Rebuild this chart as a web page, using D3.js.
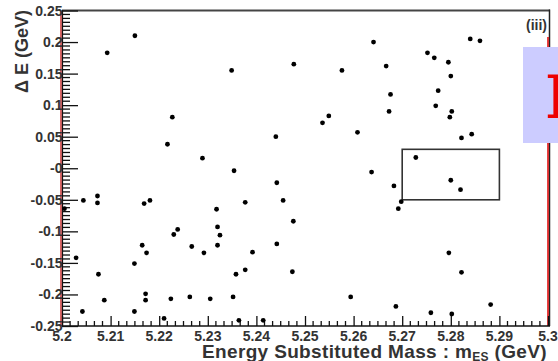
<!DOCTYPE html>
<html>
<head>
<meta charset="utf-8">
<script src="https://cdn.jsdelivr.net/npm/d3@7"></script>
<style>
  html, body { margin: 0; padding: 0; background: #fff; }
  svg { display: block; font-family: "Liberation Sans", Arial, sans-serif; }
</style>
</head>
<body>
<main></main>
<script>
"use strict";

// tick labels as printed on the plot
const xTickValues = [5.2, 5.21, 5.22, 5.23, 5.24, 5.25, 5.26, 5.27, 5.28, 5.29, 5.3];
const xTickLabels = ["5.2", "5.21", "5.22", "5.23", "5.24", "5.25", "5.26", "5.27", "5.28", "5.29", "5.3"];
const yTickValues = [0.25, 0.2, 0.15, 0.1, 0.05, 0, -0.05, -0.1, -0.15, -0.2, -0.25];
const yTickLabels = ["0.25", "0.2", "0.15", "0.1", "0.05", "-0", "-0.05", "-0.1", "-0.15", "-0.2", "-0.25"];

// candidate events: mES (GeV) and deltaE (GeV)
const mES = [
  5.2150, 5.2093, 5.2349, 5.2227, 5.2641, 5.2477, 5.2576, 5.2667, 5.2676, 5.2673,
  5.2549, 5.2840, 5.2860, 5.2752, 5.2766, 5.2795, 5.2800, 5.2774, 5.2769, 5.2802,
  5.2798, 5.2822, 5.2843, 5.2728, 5.2800, 5.2820, 5.2698, 5.2692, 5.2536, 5.2440,
  5.2608, 5.2637, 5.2442, 5.2683, 5.2455, 5.2476, 5.2217, 5.2289, 5.2354, 5.2169,
  5.2181, 5.2377, 5.2318, 5.2238, 5.2230, 5.2320, 5.2325, 5.2044, 5.2073, 5.2073,
  5.2005, 5.2029, 5.2075, 5.2149, 5.2087, 5.2042, 5.2149, 5.2165, 5.2174, 5.2267,
  5.2292, 5.2320, 5.2442, 5.2392, 5.2358, 5.2377, 5.2172, 5.2172, 5.2224, 5.2263,
  5.2305, 5.2352, 5.2210, 5.2364, 5.2414, 5.2474, 5.2594, 5.2687, 5.2796, 5.2822,
  5.2882, 5.2759, 5.2802
];
const deltaE = [
  0.210, 0.183, 0.155, 0.081, 0.200, 0.165, 0.155, 0.162, 0.117, 0.090,
  0.083, 0.205, 0.202, 0.183, 0.175, 0.168, 0.146, 0.123, 0.099, 0.090,
  0.081, 0.048, 0.054, 0.017, -0.019, -0.034, -0.053, -0.064, 0.072, 0.050,
  0.057, -0.006, -0.023, -0.028, -0.051, -0.084, 0.038, 0.016, -0.004, -0.056,
  -0.051, -0.054, -0.065, -0.097, -0.105, -0.093, -0.106, -0.051, -0.044, -0.055,
  -0.064, -0.142, -0.168, -0.151, -0.209, -0.227, -0.227, -0.122, -0.134, -0.124,
  -0.134, -0.122, -0.120, -0.133, -0.168, -0.161, -0.199, -0.209, -0.207, -0.204,
  -0.207, -0.204, -0.238, -0.241, -0.241, -0.164, -0.204, -0.219, -0.134, -0.165,
  -0.216, -0.229, -0.231
];

// signal box corners
const boxX = [5.27, 5.29];
const boxY = [-0.05, 0.03];

const svgWidth = 558;
const svgHeight = 361;
const plotLeft = 62, plotRight = 548, plotTop = 10.5, plotBottom = 326;

const svg = d3.select("main")
  .append("svg")
  .attr("width", svgWidth)
  .attr("height", svgHeight);

const xScale = d3.scaleLinear().domain([5.2, 5.3]).range([plotLeft, plotRight]);
const yScale = d3.scaleLinear().domain([-0.25, 0.25]).range([plotBottom, plotTop]);

// minor ticks
const xMinor = d3.range(0, 61).filter(i => i % 6 !== 0).map(i => 5.2 + i * 0.1 / 60);
const yMinor = d3.range(0, 81).filter(i => i % 8 !== 0).map(i => -0.25 + i * 0.5 / 80);

// top frame
svg.append("line")
  .attr("x1", plotLeft).attr("x2", plotRight + 2)
  .attr("y1", plotTop).attr("y2", plotTop)
  .attr("stroke", "#444").attr("stroke-width", 2);

// right frame (black with a red line next to it)
svg.append("line")
  .attr("x1", plotRight + 1.5).attr("x2", plotRight + 1.5)
  .attr("y1", plotTop - 1).attr("y2", plotBottom)
  .attr("stroke", "#222").attr("stroke-width", 1.5);
svg.append("line")
  .attr("x1", plotRight).attr("x2", plotRight)
  .attr("y1", 37).attr("y2", plotBottom)
  .attr("stroke", "#e00000").attr("stroke-width", 1.5);

// x axis
const xAxis = d3.axisTop(xScale)
  .tickValues(xTickValues)
  .tickSize(10)
  .tickFormat(() => "");
const gx = svg.append("g")
  .attr("transform", `translate(0, ${plotBottom})`)
  .call(xAxis);
gx.select(".domain").remove();
gx.selectAll("line").attr("stroke", "#111").attr("stroke-width", 1.3);

svg.append("g")
  .attr("transform", `translate(0, ${plotBottom})`)
  .selectAll("line")
  .data(xMinor)
  .enter()
  .append("line")
  .attr("x1", d => xScale(d)).attr("x2", d => xScale(d))
  .attr("y1", 0).attr("y2", -5)
  .attr("stroke", "#111").attr("stroke-width", 1.3);

svg.append("line")
  .attr("x1", plotLeft).attr("x2", plotRight + 2)
  .attr("y1", plotBottom).attr("y2", plotBottom)
  .attr("stroke", "#111").attr("stroke-width", 1.5);

svg.append("g")
  .selectAll("text")
  .data(xTickValues)
  .enter()
  .append("text")
  .attr("x", d => xScale(d))
  .attr("y", 340.5)
  .attr("text-anchor", "middle")
  .attr("font-size", 14)
  .attr("font-weight", "bold")
  .attr("fill", "#333")
  .text((d, i) => xTickLabels[i]);

// y axis
svg.append("line")
  .attr("x1", plotLeft - 1).attr("x2", plotLeft - 1)
  .attr("y1", plotTop).attr("y2", plotBottom)
  .attr("stroke", "#c00000").attr("stroke-width", 1.2);

const yAxis = d3.axisRight(yScale)
  .tickValues(yTickValues)
  .tickSize(16)
  .tickFormat(() => "");
const gy = svg.append("g")
  .attr("transform", `translate(${plotLeft}, 0)`)
  .call(yAxis);
gy.select(".domain").remove();
gy.selectAll("line").attr("stroke", "#111").attr("stroke-width", 1.3);

svg.append("g")
  .attr("transform", `translate(${plotLeft}, 0)`)
  .selectAll("line")
  .data(yMinor)
  .enter()
  .append("line")
  .attr("x1", 0).attr("x2", 8)
  .attr("y1", d => yScale(d)).attr("y2", d => yScale(d))
  .attr("stroke", "#111").attr("stroke-width", 1.3);

svg.append("line")
  .attr("x1", plotLeft + 0.5).attr("x2", plotLeft + 0.5)
  .attr("y1", plotTop).attr("y2", plotBottom)
  .attr("stroke", "#111").attr("stroke-width", 1.2);

svg.append("g")
  .selectAll("text")
  .data(yTickValues)
  .enter()
  .append("text")
  .attr("x", plotLeft + 0.5)
  .attr("y", d => yScale(d) + 5)
  .attr("text-anchor", "end")
  .attr("font-size", 14)
  .attr("font-weight", "bold")
  .attr("fill", "#333")
  .text((d, i) => yTickLabels[i]);

// axis titles
svg.append("text")
  .attr("transform", "translate(28, 10) rotate(-90)")
  .attr("text-anchor", "end")
  .attr("font-size", 18)
  .attr("font-weight", "bold")
  .attr("fill", "#333")
  .text("\u0394 E (GeV)");

const xTitle = svg.append("text")
  .attr("x", 547)
  .attr("y", 357.5)
  .attr("text-anchor", "end")
  .attr("font-size", 19)
  .attr("font-weight", "bold")
  .attr("letter-spacing", 0.35)
  .attr("fill", "#333");
xTitle.append("tspan").text("Energy Substituted Mass : m");
xTitle.append("tspan").attr("font-size", 12).attr("dy", 3).text("ES");
xTitle.append("tspan").attr("dy", -3).text(" (GeV)");

svg.append("text")
  .attr("x", 547)
  .attr("y", 29.5)
  .attr("text-anchor", "end")
  .attr("font-size", 14)
  .attr("font-weight", "bold")
  .attr("fill", "#333")
  .text("(iii)");

// signal box
svg.append("rect")
  .attr("x", xScale(boxX[0]))
  .attr("y", yScale(boxY[1]))
  .attr("width", xScale(boxX[1]) - xScale(boxX[0]))
  .attr("height", yScale(boxY[0]) - yScale(boxY[1]))
  .attr("fill", "none")
  .attr("stroke", "#333")
  .attr("stroke-width", 1.6);

// events
svg.append("g")
  .selectAll("circle")
  .data(mES.map((m, i) => ({ m: m, e: deltaE[i] })))
  .enter()
  .append("circle")
  .attr("cx", d => xScale(d.m))
  .attr("cy", d => yScale(d.e))
  .attr("r", 2.4)
  .attr("fill", "#000");

// overlapping label panel at the right edge
svg.append("rect")
  .attr("x", 523).attr("y", 47)
  .attr("width", 40).attr("height", 96)
  .attr("fill", "#ccccff");
svg.append("text")
  .attr("x", 545)
  .attr("y", 118)
  .attr("font-family", "'DejaVu Serif', 'Liberation Serif', serif")
  .attr("font-size", 60)
  .attr("font-weight", "bold")
  .attr("fill", "#ee0000")
  .text("B");
</script>
</body>
</html>
